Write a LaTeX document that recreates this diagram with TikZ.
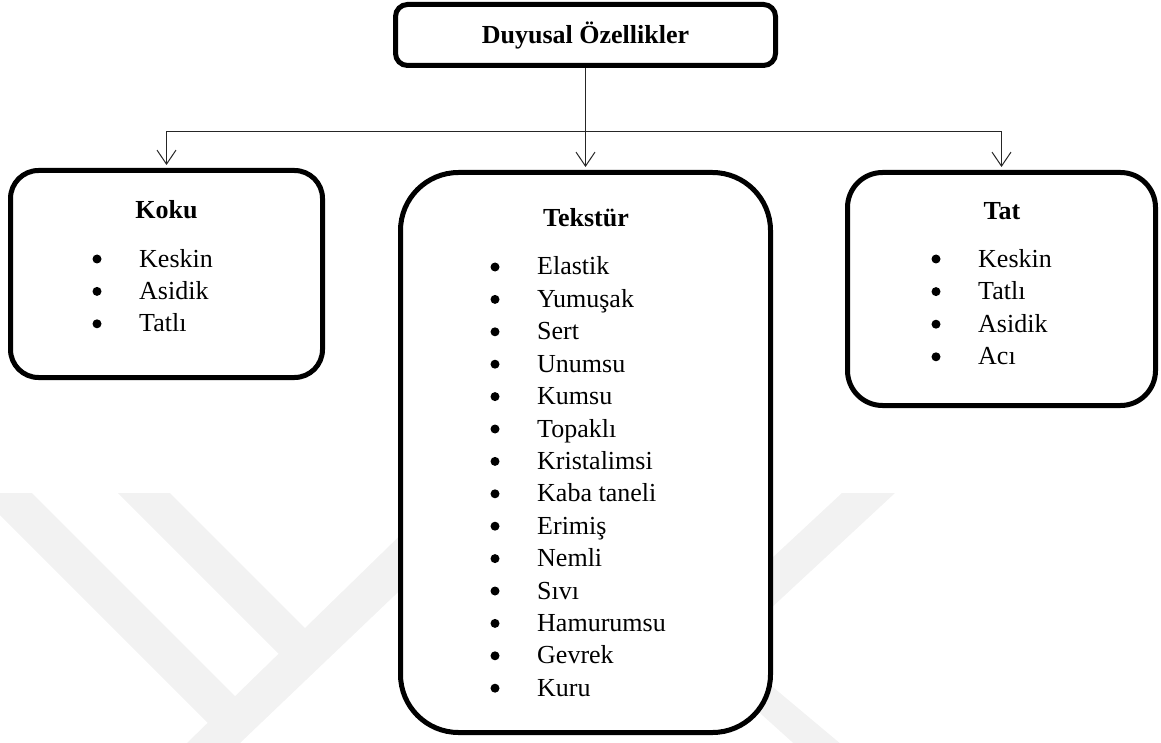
\documentclass[tikz,border=0pt]{standalone}
\usepackage{fontspec}
\setmainfont{Liberation Serif}
\usetikzlibrary{arrows.meta,positioning}

\begin{document}
\begin{tikzpicture}[
  x=1pt, y=-1pt,
  box/.style   = {draw, line width=5pt, fill=white, inner sep=0pt},
  head/.style  = {font=\fontsize{26}{31}\selectfont\bfseries,
                  anchor=base, inner sep=0pt},
  item/.style  = {font=\fontsize{26}{31}\selectfont,
                  anchor=base west, inner sep=0pt},
  dot/.style   = {circle, fill=black, inner sep=0pt, minimum size=9pt},
  arr/.style   = {-{Straight Barb[length=14pt, width=19pt]},
                  line width=1pt, black!85, shorten >=3pt},
  wmark/.style = {fill=black!5},
]
\useasboundingbox (0,0) rectangle (1161,743);

% faint watermark in the background
\begin{scope}
  \clip (0,0) rectangle (1161,743);
  \fill[wmark] (-22,493) -- (32,493) -- (248.5,709.5) -- (221,736) -- cycle;
  \fill[wmark] (118,493) -- (170,493) -- (319,642) -- (292,667) -- cycle;
  \fill[wmark] (187,743) -- (240,743) -- (460,533) -- (460,477) -- cycle;
  \fill[wmark] (842,493) -- (895,493) -- (700,674) -- (700,625) -- cycle;
  \fill[wmark] (700,626) -- (848,750) -- (801,750) -- (700,659) -- cycle;
\end{scope}

% boxes
\node[box, rounded corners=12pt, minimum width=380pt, minimum height=61pt,
      font=\fontsize{26}{31}\selectfont\bfseries]
     (dp) at (585.5,35) {Duyusal Özellikler};
\node[box, rounded corners=28pt, minimum width=312pt, minimum height=207pt]
     (ko) at (166.5,274) {};
\node[box, rounded corners=58pt, minimum width=370pt, minimum height=560pt]
     (tk) at (585.5,452.5) {};
\node[box, rounded corners=35pt, minimum width=308pt, minimum height=233pt]
     (ta) at (1001.5,289) {};

% titles
\node[head] (kot) at (166.5,219) {Koku};
\node[head] (tkt) at (586,227) {Tekstür};
\node[head] (tat) at (1002,220) {Tat};

% lists
\foreach \t [count=\i] in {Keskin,Asidik,Tatlı} {
  \node[dot]  (kod\i) at (97,{259+32.4*(\i-1)}) {};
  \node[item] (koi\i) at (139,{267+32.4*(\i-1)}) {\t};
}
\foreach \t [count=\i] in {Elastik,Yumuşak,Sert,Unumsu,Kumsu,Topaklı,
    Kristalimsi,Kaba taneli,Erimiş,Nemli,Sıvı,Hamurumsu,Gevrek,Kuru} {
  \node[dot]  (tkd\i) at (495,{267+32.4*(\i-1)}) {};
  \node[item] (tki\i) at (537,{275+32.4*(\i-1)}) {\t};
}
\foreach \t [count=\i] in {Keskin,Tatlı,Asidik,Acı} {
  \node[dot]  (tad\i) at (936,{259+32.6*(\i-1)}) {};
  \node[item] (tai\i) at (978,{267+32.6*(\i-1)}) {\t};
}

% connectors
\coordinate (j) at (dp.south |- 0,132);
\draw[arr] (dp.south) -- (tk.north);
\draw[arr] (j) -| (ko.north);
\draw[arr] (j) -| (ta.north);
\end{tikzpicture}
\end{document}
